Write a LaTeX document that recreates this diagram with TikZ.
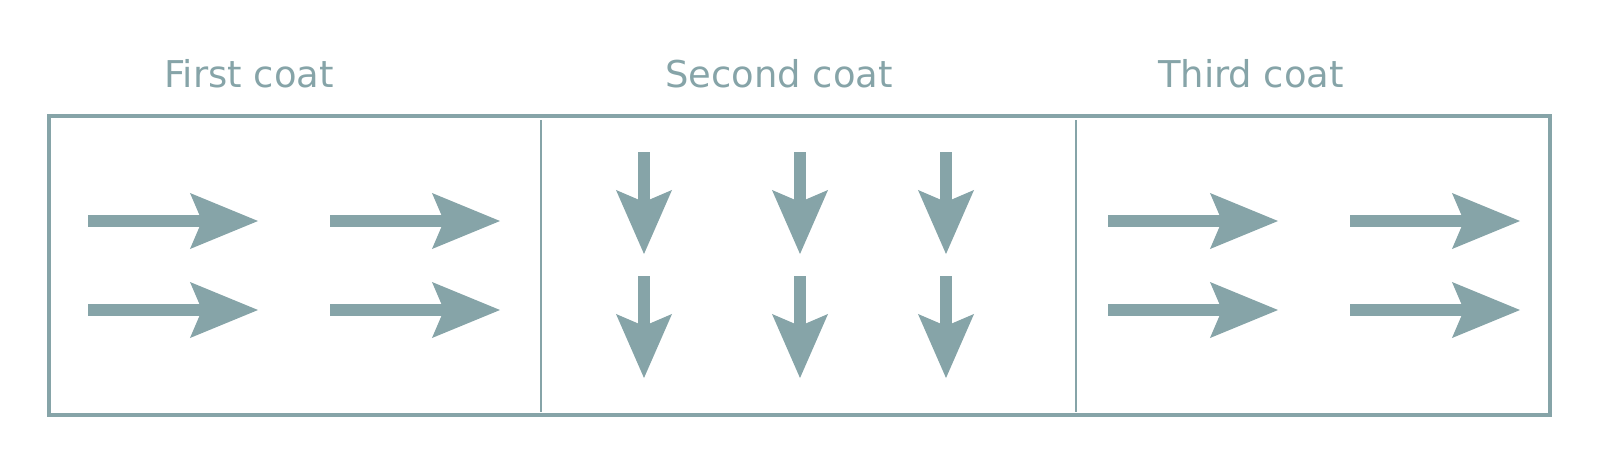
\documentclass[tikz,border=0pt]{standalone}
\usepackage{fontspec}
\setmainfont{DejaVu Sans}
\usepackage{xcolor}
\usetikzlibrary{arrows.meta}
\definecolor{coat}{RGB}{134,164,168}
\tikzset{
  brush/.style={coat,line width=0.115cm,-{Stealth[length=#1,width=0.56cm,inset=0.12cm,line width=0pt]}},
  brush/.default=0.68cm,
  title/.style={coat,anchor=base,font=\fontsize{10.5}{12}\selectfont}
}

\begin{document}
\begin{tikzpicture}[x=0.01cm,y=-0.01cm]
\useasboundingbox (0,0) rectangle (1600,454);
\draw[coat,line width=0.95pt] (49,116) rectangle (1550,415);
\draw[coat,line width=0.8pt] (541,120) -- (541,412);
\draw[coat,line width=0.8pt] (1076,120) -- (1076,412);
\node[title] (first) at (249,87) {First coat};
\node[title] (second) at (779,87) {Second coat};
\node[title] (third) at (1251,87) {Third coat};
% first and third coat: left to right
\foreach \x in {88,330,1108,1350}
\foreach \y in {221,310}
\draw[brush] (\x,\y) -- (\x+170,\y);
% second coat: top to bottom
\foreach \x in {644,800,946}
\foreach \y in {152,276}
\draw[brush=0.64cm] (\x,\y) -- (\x,\y+102);
\end{tikzpicture}
\end{document}
